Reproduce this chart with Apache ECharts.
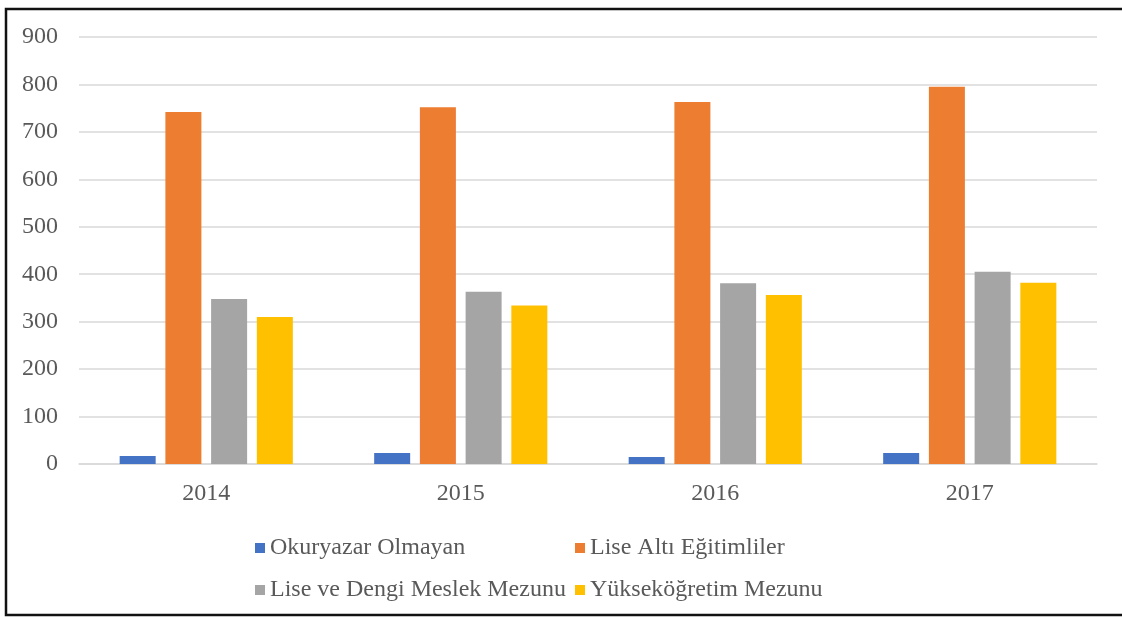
<!DOCTYPE html>
<html>
<head>
<meta charset="utf-8">
<script src="https://cdn.jsdelivr.net/npm/echarts@6/dist/echarts.min.js"></script>
<style>
  html, body { margin: 0; padding: 0; background: #fff; }
  #chart { width: 1122px; height: 617px; }
</style>
</head>
<body>
<div id="chart"></div>
<script>
// yıllar
const years = ['2014', '2015', '2016', '2017']
const yTicks = [0, 100, 200, 300, 400, 500, 600, 700, 800, 900]

// seriler
const okuryazarOlmayan = [17, 23, 15, 23]
const liseAlti = [742, 752, 763, 795]
const liseVeDengi = [348, 363, 381, 405]
const yuksekogretim = [310, 334, 356, 382]

const names = ['Okuryazar Olmayan', 'Lise Altı Eğitimliler', 'Lise ve Dengi Meslek Mezunu', 'Yükseköğretim Mezunu']
const colors = ['#4472c4', '#ed7d31', '#a5a5a5', '#ffc000']
const values = [okuryazarOlmayan, liseAlti, liseVeDengi, yuksekogretim]

const font = '"Liberation Serif", "Times New Roman", serif'
const textColor = '#595959'

const legendBase = {
  orient: 'vertical',
  itemWidth: 10,
  itemHeight: 10,
  itemGap: 18,
  icon: 'rect',
  textStyle: { fontFamily: font, fontSize: 24, color: textColor }
}

const option = {
  animation: false,
  color: colors,
  grid: { left: 79, right: 25, top: 37, bottom: 153 },
  // çerçeve: sol, üst ve alt kenar (sağ kenar görünmüyor)
  graphic: [{
    type: 'polyline',
    shape: { points: [[1140, 9], [6, 9], [6, 615], [1140, 615]] },
    style: { fill: null, stroke: '#111', lineWidth: 2.5 },
    z: 100
  }],
  legend: [
    Object.assign({ data: [names[0], names[2]], left: 250, top: 531 }, legendBase),
    Object.assign({ data: [names[1], names[3]], left: 570, top: 531 }, legendBase)
  ],
  xAxis: {
    type: 'category',
    data: years,
    axisLine: { lineStyle: { color: '#d9d9d9', width: 1.5 } },
    axisTick: { show: false },
    axisLabel: { fontFamily: font, fontSize: 24, color: textColor, margin: 18 }
  },
  yAxis: {
    type: 'value',
    min: yTicks[0],
    max: yTicks[yTicks.length - 1],
    interval: 100,
    axisLine: { show: false },
    axisTick: { show: false },
    splitLine: { lineStyle: { color: '#d9d9d9', width: 1.5 } },
    axisLabel: { fontFamily: font, fontSize: 24, color: textColor, margin: 21 }
  },
  series: names.map((n, i) => ({
    name: n,
    type: 'bar',
    data: values[i],
    barWidth: 36,
    barGap: '27%',
    itemStyle: { color: colors[i] }
  }))
}

const chart = echarts.init(document.getElementById('chart'))
chart.setOption(option)
</script>
</body>
</html>
